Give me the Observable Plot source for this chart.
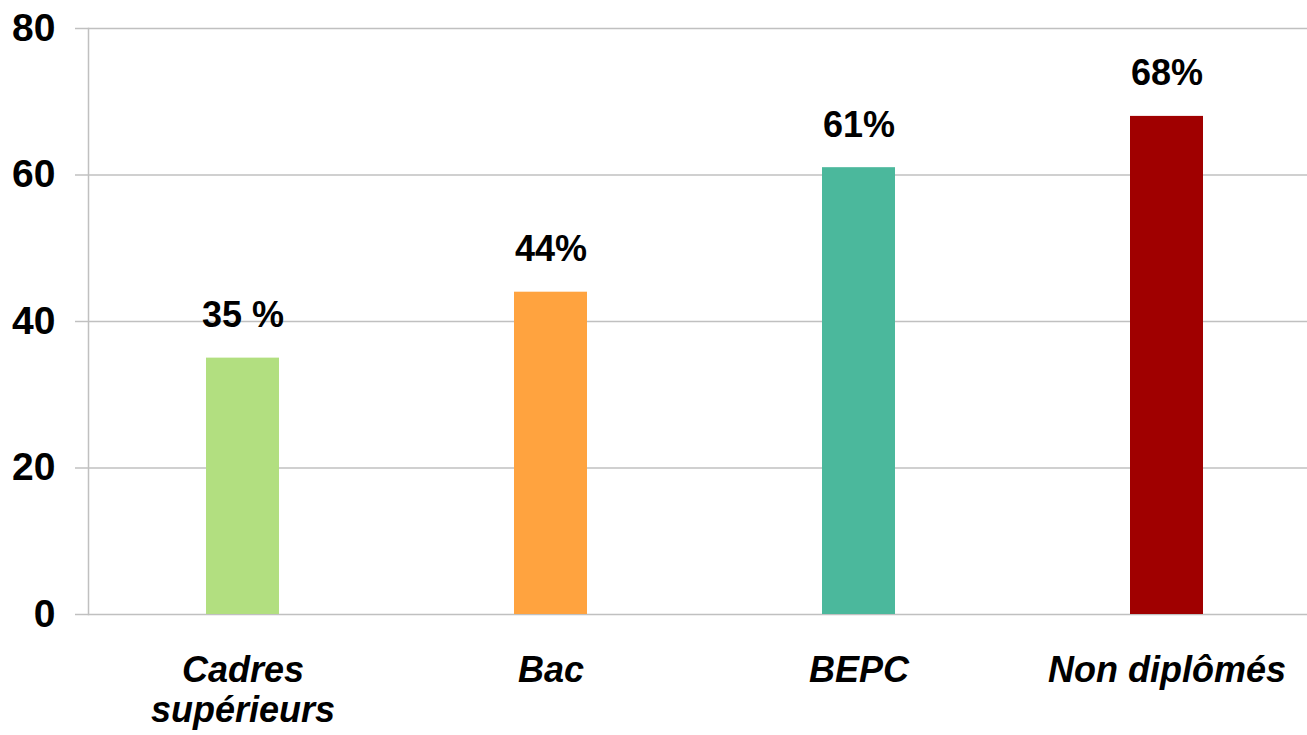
<!DOCTYPE html>
<html><head><meta charset="utf-8">
<script src="https://cdn.jsdelivr.net/npm/d3@7"></script>
<script src="https://cdn.jsdelivr.net/npm/@observablehq/plot@0.6"></script>
<style>
body{margin:0;background:#fff;}
#chart svg{display:block;}
</style></head>
<body><div id="chart"></div>
<script>
const categories = ["Cadres\nsupérieurs", "Bac", "BEPC", "Non diplômés"];
const values = [35, 44, 61, 68];
const valueLabels = ["35 %", "44%", "61%", "68%"];
const colors = ["#b2df80", "#ffa33f", "#4bb89c", "#a00000"];
const yTicks = [0, 20, 40, 60, 80];

const data = categories.map((c, i) => ({cat: c, value: values[i], label: valueLabels[i], color: colors[i]}));
const font = "'Liberation Sans', Arial, sans-serif";
const grid = "#c0c0c0";

const chart = Plot.plot({
  width: 1307,
  height: 735,
  marginLeft: 88,
  marginRight: 0,
  marginTop: 28,
  marginBottom: 121,
  style: {fontFamily: font, background: "#fff", overflow: "visible"},
  x: {domain: categories, range: [87, 1322], paddingInner: 0.763, paddingOuter: 0.3815},
  y: {domain: [0, 80]},
  marks: [
    Plot.ruleY(yTicks, {y: d => d, stroke: grid, strokeWidth: 1.5}),
    Plot.barY(data, {x: "cat", y: "value", fill: "color"}),
    Plot.frame({anchor: "left", stroke: grid, strokeWidth: 1.5}),
    Plot.axisY({ticks: yTicks, tickSize: 13, tickPadding: 20, stroke: grid, strokeWidth: 1.5, fill: "#000", fontSize: 39, fontWeight: "bold", label: null}),
    Plot.axisX({tickSize: 0, tickPadding: 39, fill: "#000", fontSize: 36, fontWeight: "bold", fontStyle: "italic", lineHeight: 1.11, label: null}),
    Plot.text(data, {x: "cat", y: "value", text: "label", dy: -31, lineAnchor: "bottom", fill: "#000", fontSize: 36, fontWeight: "bold"})
  ]
});
document.getElementById("chart").appendChild(chart);
</script>
</body></html>
